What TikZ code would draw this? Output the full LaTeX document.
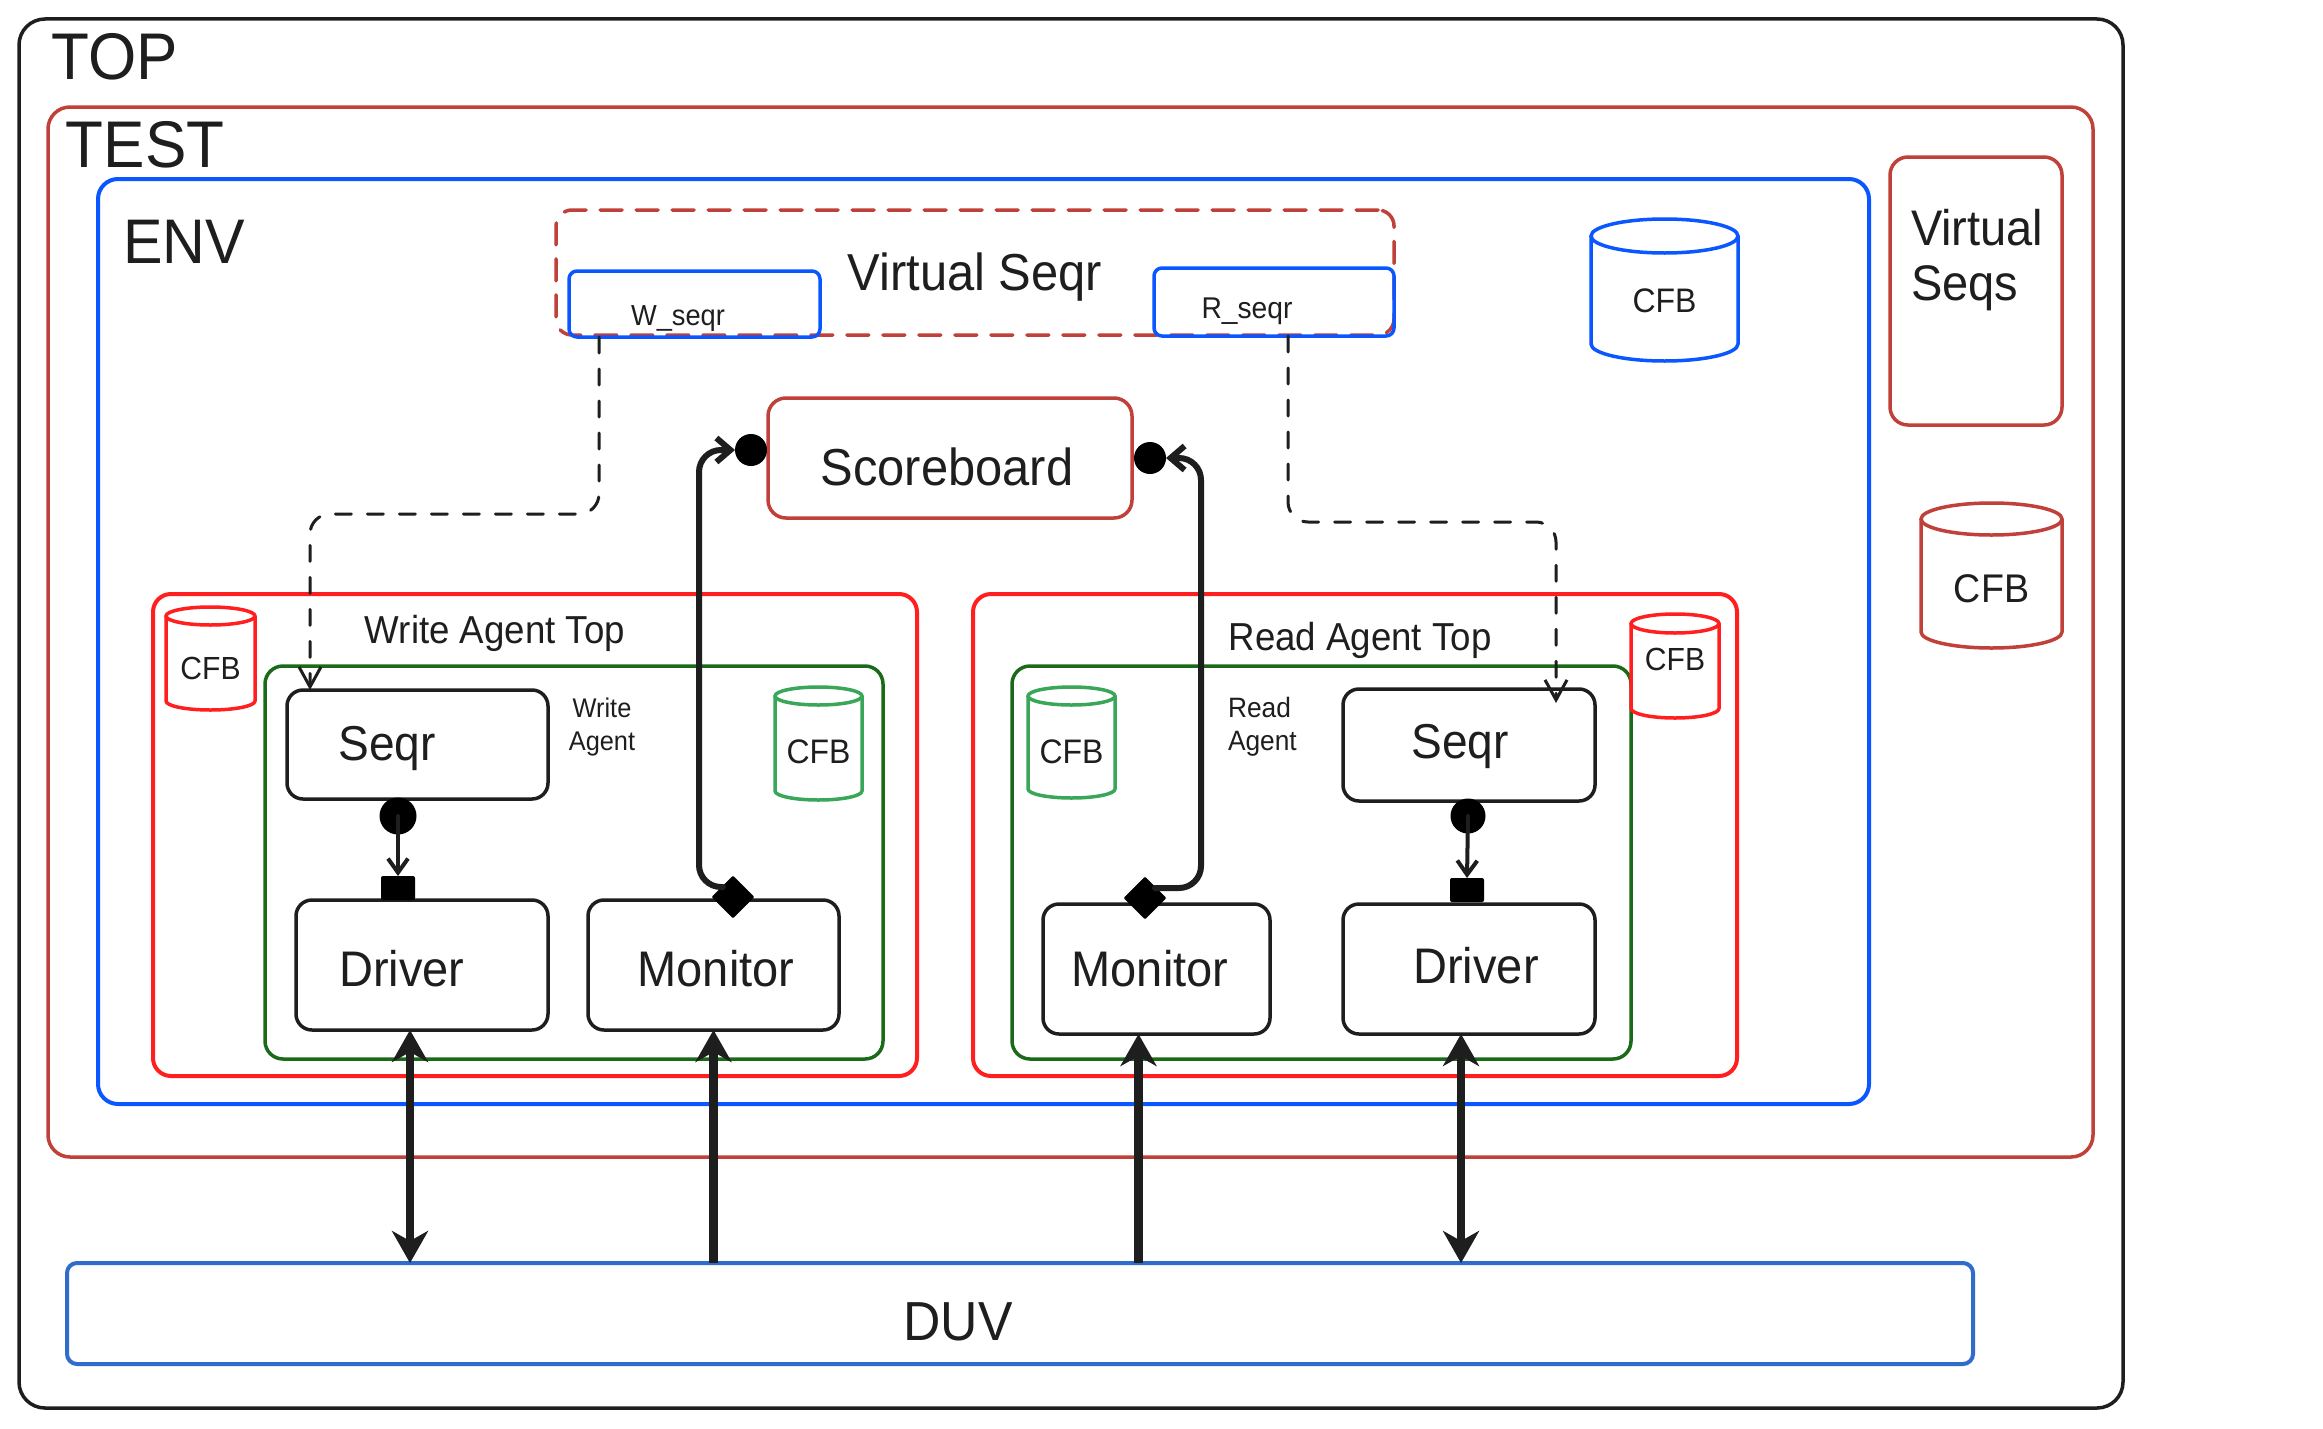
\documentclass[tikz,border=0pt]{standalone}
\usepackage{fontspec}
\setmainfont{Liberation Sans}[FakeStretch=0.94]
\usetikzlibrary{arrows.meta,shapes.geometric}

\definecolor{ink}{HTML}{1E1E1E}
\definecolor{brick}{HTML}{C0403A}
\definecolor{envblue}{HTML}{0A56FF}
\definecolor{agentred}{HTML}{FF1F1F}
\definecolor{agentgreen}{HTML}{1A6A1A}
\definecolor{cfbgreen}{HTML}{3AA65A}
\definecolor{duvblue}{HTML}{2F6CCC}

% font size / baseline skip in pt
\newcommand{\fsz}[2]{\fontsize{#1pt}{#2pt}\selectfont}

% rectangle node given by its corners: style, left, top, right, bottom, name
\newcommand{\frameat}[6]{%
  \node[#1, anchor=north west, minimum width={#4-#2}, minimum height={#5-#3}] (#6) at (#2,#3) {};}

% storage cylinder: style, left, top, right, bottom, lid height, name, font size, text y
\newcommand{\cfbat}[9]{%
  \pgfmathsetmacro\cylcx{(#2+#4)/2}%
  \pgfmathsetmacro\cylrx{(#4-#2)/2}%
  \pgfmathsetmacro\cylry{#6/2}%
  \pgfmathsetmacro\cylty{#3+#6/2}%
  \pgfmathsetmacro\cylby{#5-#6/2}%
  \draw[#1] (\cylcx,\cylty) ellipse [x radius=\cylrx, y radius=\cylry];
  \draw[#1] (#2,\cylty) -- (#2,\cylby) arc[start angle=180, end angle=0, x radius=\cylrx, y radius=\cylry] -- (#4,\cylty);
  \node[lbl, font={\fsz{#8}{#8}}] (#7) at (\cylcx,#9) {CFB};}

\tikzset{
  frm/.style={inner sep=0pt, outer sep=0pt, rectangle},
  lbl/.style={inner sep=0pt, outer sep=0pt, text=ink},
  topframe/.style={frm, draw=ink, line width=3.5pt, rounded corners=26pt},
  testframe/.style={frm, draw=brick, line width=3.5pt, rounded corners=22pt},
  envframe/.style={frm, draw=envblue, line width=4pt, rounded corners=20pt},
  agtopframe/.style={frm, draw=agentred, line width=4pt, rounded corners=18pt},
  agentframe/.style={frm, draw=agentgreen, line width=3.5pt, rounded corners=18pt},
  compbox/.style={frm, draw=ink, line width=3.5pt, rounded corners=16pt},
  brickbox/.style={frm, draw=brick, line width=3.5pt, rounded corners=18pt},
  vseqrframe/.style={frm, draw=brick, line width=3.5pt, rounded corners=16pt, dash pattern=on 22pt off 14pt},
  subseqr/.style={frm, draw=envblue, line width=3.5pt, rounded corners=8pt},
  duvframe/.style={frm, draw=duvblue, line width=4pt, rounded corners=10pt},
  cylred/.style={draw=agentred, line width=3.5pt},
  cylgreen/.style={draw=cfbgreen, line width=3.5pt},
  cylblue/.style={draw=envblue, line width=3.5pt},
  cylbrick/.style={draw=brick, line width=3.5pt},
  dotm/.style={circle, fill=black, inner sep=0pt, outer sep=0pt},
  sqm/.style={rectangle, fill=black, inner sep=0pt, outer sep=0pt, minimum width=34pt, minimum height=24pt, rounded corners=2pt},
  diam/.style={diamond, fill=black, draw=black, line width=2pt, inner sep=0pt, outer sep=0pt, minimum width=40pt, minimum height=40pt},
  minor/.style={draw=ink, line width=4pt, -{Straight Barb[length=14pt,width=20pt]}},
  sbline/.style={draw=ink, line width=6pt, rounded corners=22pt, -{Straight Barb[length=14pt,width=24pt]}},
  dline/.style={draw=ink, line width=3pt, dash pattern=on 16pt off 16pt, rounded corners=20pt, -{Straight Barb[length=20pt,width=22pt]}},
  bus/.style={draw=ink, line width=8.5pt, line cap=butt},
  busboth/.style={bus, {Stealth[length=32pt,width=36pt,inset=10pt]}-{Stealth[length=32pt,width=36pt,inset=10pt]}},
  busup/.style={bus, {Stealth[length=32pt,width=36pt,inset=10pt]}-},
}

\begin{document}
\begin{tikzpicture}[x=1pt, y=-1pt, line join=round, line cap=round]
\useasboundingbox (0,0) rectangle (2323,1429);
\fill[white] (0,0) rectangle (2323,1429);

% nested containers
\frameat{topframe}{19}{19}{2123}{1408}{top}
\frameat{testframe}{48}{107}{2093}{1157}{test}
\frameat{envframe}{98}{179}{1869}{1104}{env}
\node[lbl, anchor=base, font={\fsz{66}{70}}] (topLbl) at (115,80) {TOP};
\node[lbl, anchor=base, font={\fsz{66}{70}}] (testLbl) at (145,167) {TEST};
\node[lbl, anchor=base, font={\fsz{63}{68}}] (envLbl) at (184,263) {ENV};

% virtual sequencer with its two sub-sequencers
\frameat{vseqrframe}{556}{210}{1394}{335}{vseqr}
\frameat{subseqr}{569}{271}{820}{337}{wseqr}
\frameat{subseqr}{1154}{268}{1394}{336}{rseqr}
\node[lbl, anchor=base, font={\fsz{52}{56}}] (vseqrLbl) at (975,290) {Virtual Seqr};
\node[lbl, anchor=base, font={\fsz{29}{32}}] (wseqrLbl) at (678,325) {W\_seqr};
\node[lbl, anchor=base, font={\fsz{30}{33}}] (rseqrLbl) at (1247,318) {R\_seqr};

% scoreboard
\frameat{brickbox}{768}{398}{1132}{518}{sb}
\node[lbl, anchor=base, font={\fsz{52}{56}}] (sbLbl) at (947,485) {Scoreboard};

% test-level items
\frameat{brickbox}{1890}{157}{2062}{425}{vseqs}
\node[lbl, anchor=north west, align=left, font={\fsz{50}{55}}] (vseqsLbl) at (1911,209) {Virtual\\Seqs};
\cfbat{cylbrick}{1921}{503}{2062}{648}{32}{cfbTest}{40}{589}
\cfbat{cylblue}{1591}{219}{1738}{361}{34}{cfbEnv}{34}{301}

% write agent top
\frameat{agtopframe}{153}{594}{917}{1076}{wTop}
\frameat{agentframe}{265}{666}{883}{1059}{wAgent}
\node[lbl, anchor=base, font={\fsz{39}{42}}] (wTopLbl) at (495,643) {Write Agent Top};
\cfbat{cylred}{166}{607}{255}{710}{18}{cfbWTop}{32}{668}
\cfbat{cylgreen}{775}{687}{862}{800}{18}{cfbWAgent}{34}{752}
\node[lbl, align=center, font={\fsz{27}{33}}] (wAgentLbl) at (602,727) {Write\\Agent};
\frameat{compbox}{287}{690}{548}{799}{wSeq}
\frameat{compbox}{296}{900}{548}{1030}{wDrv}
\frameat{compbox}{588}{900}{839}{1030}{wMon}
\node[lbl, anchor=base, font={\fsz{49}{52}}] (wSeqLbl) at (387,760) {Seqr};
\node[lbl, anchor=base, font={\fsz{50}{54}}] (wDrvLbl) at (402,986) {Driver};
\node[lbl, anchor=base, font={\fsz{50}{54}}] (wMonLbl) at (716,986) {Monitor};

% read agent top
\frameat{agtopframe}{973}{594}{1737}{1076}{rTop}
\frameat{agentframe}{1012}{666}{1631}{1059}{rAgent}
\node[lbl, anchor=base, font={\fsz{39}{42}}] (rTopLbl) at (1360,650) {Read Agent Top};
\cfbat{cylred}{1631}{614}{1719}{718}{19}{cfbRTop}{32}{659}
\cfbat{cylgreen}{1028}{687}{1115}{798}{18}{cfbRAgent}{34}{752}
\node[lbl, anchor=west, align=left, font={\fsz{28}{33}}] (rAgentLbl) at (1228,727) {Read\\Agent};
\frameat{compbox}{1343}{689}{1595}{801}{rSeq}
\frameat{compbox}{1043}{904}{1270}{1034}{rMon}
\frameat{compbox}{1343}{904}{1595}{1034}{rDrv}
\node[lbl, anchor=base, font={\fsz{49}{52}}] (rSeqLbl) at (1460,758) {Seqr};
\node[lbl, anchor=base, font={\fsz{50}{54}}] (rMonLbl) at (1150,986) {Monitor};
\node[lbl, anchor=base, font={\fsz{50}{54}}] (rDrvLbl) at (1476,983) {Driver};

% design under verification
\frameat{duvframe}{67}{1263}{1973}{1364}{duv}
\node[lbl, anchor=base, font={\fsz{55}{60}}] (duvLbl) at (958,1340) {DUV};

% port markers
\node[dotm, minimum size=32pt] (sbL) at (751,450) {};
\node[dotm, minimum size=32pt] (sbR) at (1150,458) {};
\node[dotm, minimum size=37pt] (wDot) at (398,816) {};
\node[dotm, minimum size=35pt] (rDot) at (1468,816) {};
\node[sqm] (wSq) at (398,888) {};
\node[sqm] (rSq) at (1467,890) {};
\node[diam] (dW) at (733,897) {};
\node[diam] (dR) at (1145,898) {};

% sequencer to driver
\draw[minor] (wDot.center) -- (wSq.north);
\draw[minor] (rDot.center) -- (rSq.north);

% monitors to scoreboard
\draw[sbline] (dW.north west) -| (699,450) -- (sbL.west);
\draw[sbline] (dR.north east) -| (1201,458) -- (sbR.east);

% virtual sequencer handles
\draw[dline] ([xshift=30pt]wseqr.south west) -- ++(0,177) -| ([xshift=23pt]wSeq.north west);
\draw[dline, shorten >=-14pt] ([xshift=134pt]rseqr.south west) -- ++(0,186) -| ([xshift=213pt]rSeq.north west);

% pin-level connections to the DUV
\draw[busboth] ([xshift=-12pt]wDrv.south) -- ([xshift=-12pt]wDrv.south |- duv.north);
\draw[busup] (wMon.south) -- (wMon.south |- duv.north);
\draw[busup] ([xshift=-18pt]rMon.south) -- ([xshift=-18pt]rMon.south |- duv.north);
\draw[busboth] ([xshift=-8pt]rDrv.south) -- ([xshift=-8pt]rDrv.south |- duv.north);
\end{tikzpicture}
\end{document}
